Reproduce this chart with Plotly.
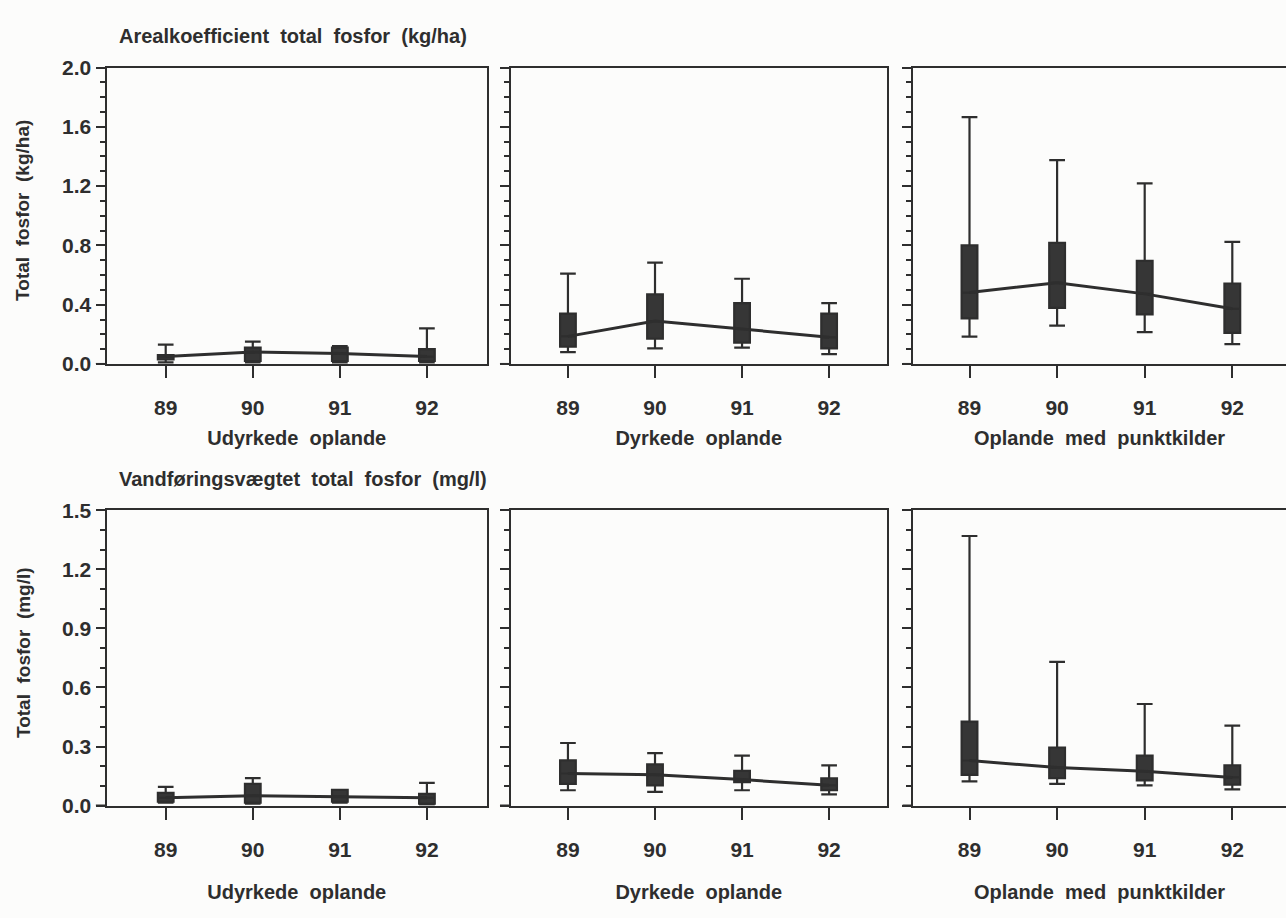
import plotly.graph_objects as go

# Sampling years
years = [89, 90, 91, 92]
year_labels = ["89", "90", "91", "92"]

# Area coefficient, total phosphorus (kg/ha): min, Q1, median, Q3, max
udyrk_kg_min = [0.01, 0.01, 0.01, 0.01]
udyrk_kg_q1 = [0.03, 0.02, 0.02, 0.02]
udyrk_kg_med = [0.05, 0.08, 0.07, 0.05]
udyrk_kg_q3 = [0.06, 0.11, 0.11, 0.10]
udyrk_kg_max = [0.13, 0.15, 0.12, 0.24]

dyrk_kg_min = [0.08, 0.105, 0.11, 0.066]
dyrk_kg_q1 = [0.116, 0.17, 0.144, 0.105]
dyrk_kg_med = [0.186, 0.29, 0.236, 0.18]
dyrk_kg_q3 = [0.34, 0.47, 0.41, 0.34]
dyrk_kg_max = [0.61, 0.684, 0.575, 0.41]

punkt_kg_min = [0.184, 0.259, 0.215, 0.134]
punkt_kg_q1 = [0.307, 0.379, 0.335, 0.21]
punkt_kg_med = [0.482, 0.548, 0.473, 0.372]
punkt_kg_q3 = [0.80, 0.817, 0.696, 0.543]
punkt_kg_max = [1.665, 1.376, 1.218, 0.824]

# Flow-weighted total phosphorus (mg/l)
udyrk_mg_min = [0.015, 0.01, 0.015, 0.005]
udyrk_mg_q1 = [0.02, 0.015, 0.02, 0.01]
udyrk_mg_med = [0.04, 0.05, 0.045, 0.04]
udyrk_mg_q3 = [0.065, 0.11, 0.08, 0.06]
udyrk_mg_max = [0.095, 0.14, 0.08, 0.115]

dyrk_mg_min = [0.078, 0.07, 0.078, 0.057]
dyrk_mg_q1 = [0.11, 0.103, 0.119, 0.078]
dyrk_mg_med = [0.163, 0.157, 0.132, 0.103]
dyrk_mg_q3 = [0.23, 0.209, 0.176, 0.139]
dyrk_mg_max = [0.318, 0.266, 0.254, 0.204]

punkt_mg_min = [0.123, 0.11, 0.103, 0.082]
punkt_mg_q1 = [0.156, 0.139, 0.128, 0.106]
punkt_mg_med = [0.229, 0.193, 0.175, 0.143]
punkt_mg_q3 = [0.426, 0.295, 0.254, 0.205]
punkt_mg_max = [1.369, 0.73, 0.516, 0.406]

group_titles = ["Udyrkede  oplande", "Dyrkede  oplande", "Oplande  med  punktkilder"]
row_titles = ["Arealkoefficient  total  fosfor  (kg/ha)",
              "Vandføringsvægtet  total  fosfor  (mg/l)"]
y_titles = ["Total  fosfor  (kg/ha)", "Total  fosfor  (mg/l)"]

INK = "#2e2e2e"
FONT = "Liberation Sans, Arial, sans-serif"
W, H = 1286, 918

panels = [
    # (row, col, min, q1, med, q3, max)
    (0, 0, udyrk_kg_min, udyrk_kg_q1, udyrk_kg_med, udyrk_kg_q3, udyrk_kg_max),
    (0, 1, dyrk_kg_min, dyrk_kg_q1, dyrk_kg_med, dyrk_kg_q3, dyrk_kg_max),
    (0, 2, punkt_kg_min, punkt_kg_q1, punkt_kg_med, punkt_kg_q3, punkt_kg_max),
    (1, 0, udyrk_mg_min, udyrk_mg_q1, udyrk_mg_med, udyrk_mg_q3, udyrk_mg_max),
    (1, 1, dyrk_mg_min, dyrk_mg_q1, dyrk_mg_med, dyrk_mg_q3, dyrk_mg_max),
    (1, 2, punkt_mg_min, punkt_mg_q1, punkt_mg_med, punkt_mg_q3, punkt_mg_max),
]

# pixel extents of the plotting areas
col_px = [(106.5, 487), (510.5, 887), (913, 1286)]
row_px = [(57, 361), (511, 814)]
x_ranges = [(88.32, 92.69), (88.34, 92.665), (88.355, 92.613)]
y_ranges = [(0, 2.0), (0, 1.5)]
y_dticks = [0.4, 0.3]
title_standoff = [13, 25]


def txt(size):
    return dict(family=FONT, size=size, color=INK, weight="bold")


fig = go.Figure()
layout = {}

for i, (r, c, vmin, q1, med, q3, vmax) in enumerate(panels):
    n = i + 1
    xa = "x" if n == 1 else f"x{n}"
    ya = "y" if n == 1 else f"y{n}"

    fig.add_trace(go.Box(
        x=years, q1=q1, median=med, q3=q3,
        lowerfence=vmin, upperfence=vmax,
        width=0.18, whiskerwidth=1.0,
        fillcolor="#363636", line=dict(color=INK, width=2.2),
        boxpoints=False, hoverinfo="skip", showlegend=False,
        xaxis=xa, yaxis=ya,
    ))
    fig.add_trace(go.Scatter(
        x=years, y=med, mode="lines",
        line=dict(color=INK, width=3),
        hoverinfo="skip", showlegend=False,
        xaxis=xa, yaxis=ya,
    ))

    x0, x1 = col_px[c]
    ytop, ybot = row_px[r]
    xkey = "xaxis" if n == 1 else f"xaxis{n}"
    ykey = "yaxis" if n == 1 else f"yaxis{n}"

    layout[xkey] = dict(
        domain=[x0 / W, x1 / W], anchor=ya,
        range=list(x_ranges[c]),
        tickmode="array", tickvals=years, ticktext=year_labels,
        ticks="outside", ticklen=12, tickwidth=2, tickcolor=INK,
        ticklabelstandoff=12,
        showline=True, linewidth=2, linecolor=INK, mirror=True,
        showgrid=False, zeroline=False,
        tickfont=txt(21),
        title=dict(text=group_titles[c], standoff=title_standoff[r],
                   font=txt(20)),
    )
    layout[ykey] = dict(
        domain=[1 - ybot / H, 1 - ytop / H], anchor=xa,
        range=list(y_ranges[r]),
        tickmode="linear", tick0=0, dtick=y_dticks[r], tickformat=".1f",
        ticks="outside", ticklen=9, tickwidth=2, tickcolor=INK,
        minor=dict(dtick=0.1, tick0=0, ticks="outside", ticklen=5,
                   tickwidth=1.5, tickcolor=INK, showgrid=False),
        showticklabels=(c == 0),
        showline=True, linewidth=2, linecolor=INK,
        mirror=(c != 2),
        showgrid=False, zeroline=False,
        tickfont=txt(21),
    )

shapes = []
for i in range(6):
    n = i + 1
    xa = "x" if n == 1 else f"x{n}"
    ya = "y" if n == 1 else f"y{n}"
    # baseline stub running past the left axis
    shapes.append(dict(type="line", xref=f"{xa} domain", yref=ya,
                       x0=-0.028, x1=0, y0=0, y1=0,
                       line=dict(color=INK, width=2)))

annotations = []
for r in range(2):
    ytop, ybot = row_px[r]
    annotations.append(dict(
        text=row_titles[r], xref="paper", yref="paper",
        x=117 / W, y=1 - (ytop - 32) / H, xanchor="left", yanchor="middle",
        showarrow=False, font=txt(20),
    ))
    annotations.append(dict(
        text=y_titles[r], xref="paper", yref="paper", textangle=-90,
        x=23 / W, y=1 - ((ytop + ybot) / 2 - 5) / H,
        xanchor="center", yanchor="middle",
        showarrow=False, font=txt(19),
    ))

fig.update_layout(
    width=W, height=H,
    margin=dict(l=0, r=0, t=0, b=0),
    paper_bgcolor="#fcfcfb", plot_bgcolor="#fcfcfb",
    shapes=shapes, annotations=annotations,
    **layout,
)

fig.write_html("out.html", post_script="document.body.style.margin='0px';")
